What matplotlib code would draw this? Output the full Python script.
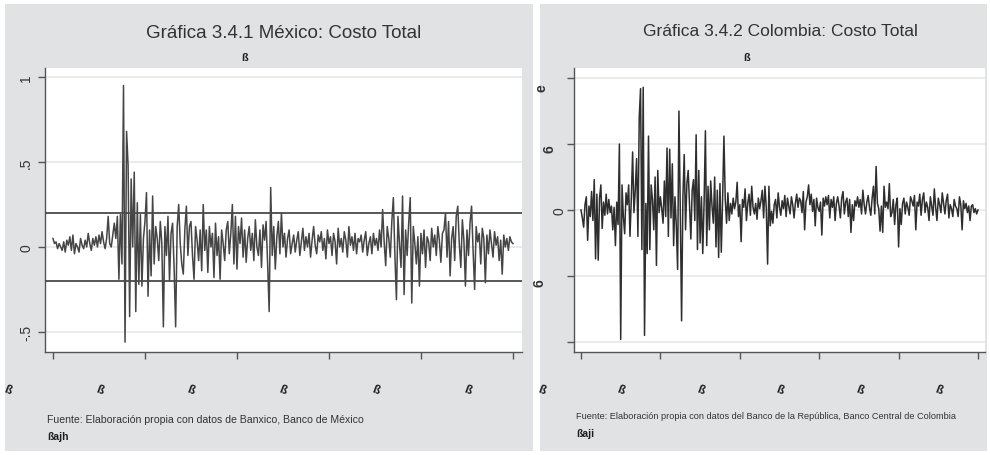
import matplotlib
matplotlib.use("Agg")
import matplotlib.pyplot as plt
from matplotlib.patches import Rectangle
import numpy as np

# Mexico: costo total (monthly changes)
mexico = [
    0.05, 0.02, 0.03, -0.01, 0.02, 0.00, -0.02, 0.03, -0.03, 0.04,
    0.01, 0.06, -0.02, 0.07, -0.04, 0.02, 0.00, -0.03, 0.05, 0.01,
    -0.01, 0.04, 0.00, 0.08, 0.02, -0.02, 0.05, 0.01, 0.06, 0.00,
    0.07, 0.02, 0.09, 0.03, -0.01, 0.05, 0.18, 0.02, 0.00, 0.07,
    0.14, 0.05, 0.18, -0.19, 0.19, -0.10, 0.95, -0.56, 0.68, 0.48,
    -0.41, 0.40, 0.00, 0.44, -0.38, 0.26, -0.22, 0.19, -0.23, 0.05,
    0.15, 0.32, -0.29, 0.10, -0.17, 0.30, -0.10, 0.12, 0.05, -0.08,
    0.15, 0.02, -0.47, 0.12, -0.05, 0.18, -0.20, 0.08, 0.14, -0.12,
    -0.47, 0.12, 0.25, 0.02, -0.10, -0.16, 0.10, 0.24, -0.05, 0.12,
    0.15, -0.05, -0.19, 0.12, 0.04, -0.08, 0.10, -0.14, 0.25, -0.02,
    0.10, -0.15, 0.12, 0.00, 0.08, -0.18, 0.14, -0.05, 0.06, -0.19,
    0.10, 0.02, -0.08, 0.10, 0.15, -0.04, 0.08, 0.25, -0.10, 0.18,
    -0.13, 0.12, 0.02, 0.17, -0.06, 0.10, -0.09, 0.05, 0.12, -0.02,
    0.08, -0.08, 0.16, 0.00, -0.05, 0.10, -0.12, 0.13, 0.04, 0.15,
    -0.10, -0.38, 0.35, -0.05, 0.12, -0.13, 0.06, 0.15, -0.04, 0.20,
    0.00, 0.08, -0.06, 0.05, 0.10, -0.04, 0.02, 0.07, -0.03, 0.04,
    0.09, -0.05, 0.03, 0.11, -0.02, 0.06, 0.00, 0.08, -0.06, 0.04,
    0.12, 0.01, -0.04, 0.07, 0.03, 0.09, -0.02, 0.05, -0.07, 0.10,
    0.02, 0.06, -0.05, 0.08, 0.03, -0.10, 0.11, 0.00, 0.05, -0.03,
    0.09, 0.04, -0.06, 0.12, 0.01, 0.06, -0.02, 0.08, -0.04, 0.05,
    0.03, 0.07, -0.03, 0.04, 0.09, -0.05, 0.02, 0.06, -0.04, 0.08,
    0.01, 0.05, -0.02, 0.10, 0.00, 0.22, 0.03, -0.11, 0.12, 0.05,
    -0.06, 0.15, 0.29, -0.05, -0.31, 0.18, 0.02, -0.12, 0.30, -0.28,
    0.10, -0.05, 0.14, 0.29, -0.33, 0.12, 0.02, -0.10, 0.06, -0.23,
    0.08, -0.04, 0.10, -0.12, 0.06, 0.03, -0.08, 0.11, 0.00, 0.07,
    -0.05, 0.12, 0.04, -0.09, 0.08, 0.10, 0.20, -0.06, 0.15, -0.17,
    0.05, 0.12, -0.08, 0.18, 0.24, 0.02, -0.12, 0.16, 0.04, -0.23,
    0.10, -0.05, 0.14, 0.24, -0.02, -0.25, 0.12, 0.03, 0.08, -0.10,
    0.11, 0.05, -0.21, 0.07, -0.04, 0.10, 0.02, -0.06, 0.09, 0.01,
    0.06, -0.08, 0.04, -0.16, 0.07, 0.00, 0.05, -0.02, 0.06, 0.03, 0.02,
]

# Colombia: costo total
colombia = [
    0.0, -0.6, -1.3, 0.4, 1.0, -2.3, 0.3, -0.5, 1.4, -0.8,
    2.3, -3.7, 1.2, -3.8, 0.9, 1.9, -1.4, 0.6, -0.4, 1.2,
    -0.3, 0.8, -0.2, 0.3, -1.5, 0.2, -2.7, 0.6, -1.1, 5.0,
    -9.8, 1.9, -0.5, -1.8, 1.3, 0.4, 1.9, -2.0, 0.8, 4.4,
    -0.2, 1.5, 3.9, -2.0, 7.0, 9.2, -3.0, 9.3, -9.5, 0.5,
    -3.3, 5.6, -3.0, 1.9, 0.8, -1.5, 2.5, -4.2, 3.0, -0.2,
    1.0, 0.1, -1.0, 2.2, -0.5, 4.7, -2.0, 4.6, -0.6, 3.5,
    -2.7, 1.0, -1.2, -4.5, 7.5, 0.2, -8.4, 1.0, 4.2, -1.5,
    2.0, 3.0, 0.3, -2.2, 1.5, 2.3, -0.8, 5.7, -3.0, 3.0,
    -2.5, 1.0, -3.3, 0.5, 6.0, -2.7, 1.8, -1.5, 2.2, 0.3,
    -1.0, 2.5, -2.8, 1.5, -3.6, 2.0, -3.2, 0.8, 5.6, 0.8,
    -1.0, 1.3, -0.8, 0.5, -0.3, 0.9, 0.1, 0.6, 2.1, -0.5,
    0.4, -2.4, 0.8, 0.2, 1.6, -0.8, 0.5, 1.2, -0.4, 1.8,
    0.2, -0.3, 0.5, -0.7, 0.9, 0.1, 0.7, 1.5, -0.6, 1.8,
    0.2, -4.1, 1.8, -1.2, -0.1, -1.0, 0.4, 0.8, -0.6, 1.3,
    0.2, -0.4, 0.7, 0.1, 1.1, -0.5, 0.9, 0.3, -0.3, 1.0,
    0.4, -0.6, 0.5, 1.2, 0.2, 0.9, 0.7, -0.2, 1.4, -1.5,
    0.6, 1.0, 1.9, 0.4, 1.2, -0.1, 0.8, -1.2, 0.9, 0.2,
    -0.1, 0.6, -1.9, 0.9, 0.3, 1.0, 0.4, 1.1, -0.6, 0.8,
    0.2, 1.0, -0.8, 0.5, 1.0, 0.3, -0.6, 0.9, 1.4, -0.3,
    0.6, 0.9, -0.5, 0.8, -1.7, 0.4, -0.8, 0.7, 0.3, 1.0,
    0.2, 0.8, -0.3, 1.5, 0.4, -0.3, 0.6, 1.1, 0.2, -0.4,
    0.9, 1.8, -0.3, 3.3, 0.5, 0.1, -1.6, 0.3, -1.7, 1.8,
    0.2, 0.6, 0.1, 2.0, -0.5, -0.2, 0.8, -1.1, 0.4, 0.9,
    -2.8, 0.1, -1.1, 0.5, 0.9, -0.3, 0.6, 0.2, -0.4, 1.0,
    0.7, 0.3, 1.1, -1.5, 0.6, 0.3, 1.2, -0.4, 0.8, 1.3,
    -0.2, 0.6, 0.2, -0.8, 1.0, 0.3, -0.4, 1.6, 0.2, -0.8,
    0.9, 0.4, -0.2, 1.3, 0.5, -0.3, 0.7, 1.2, -0.6, 0.4,
    0.1, -0.5, 0.8, 0.3, 0.1, -0.5, 1.0, 0.4, -1.5, 0.7,
    0.1, 0.5, -0.2, 0.3, -0.8, 0.3, 0.4, -0.2, 0.1, -0.3, 0.0,
]

mex_yticks = [-0.5, 0, 0.5, 1]
mex_ylabels = ["-.5", "0", ".5", "1"]
mex_band = [-0.2, 0.2]
col_yticks = [-10, -5, 0, 5, 10]

titles = ["Gráfica 3.4.1 México: Costo Total", "Gráfica 3.4.2 Colombia: Costo Total"]
fuentes = ["Fuente: Elaboración propia con datos de Banxico, Banco de México",
           "Fuente: Elaboración propia con datos del Banco de la República, Banco Central de Colombia"]

W, H = 990, 456
plt.rcParams['font.family'] = ['Liberation Sans', 'DejaVu Sans']
fig = plt.figure(figsize=(W / 100, H / 100), dpi=100)
fig.patch.set_facecolor("white")

def fx(x):
    return x / W

def fy(y):
    return 1 - y / H

bg = "#e1e2e4"
fig.patches.append(Rectangle((fx(5), fy(452)), fx(528), 447 / H, transform=fig.transFigure,
                             facecolor=bg, edgecolor="none", zorder=-1))
fig.patches.append(Rectangle((fx(540), fy(452)), fx(447), 447 / H, transform=fig.transFigure,
                             facecolor=bg, edgecolor="none", zorder=-1))

ax1 = fig.add_axes([fx(45), fy(353), fx(477), 284 / H])
ax2 = fig.add_axes([fx(574), fy(353), fx(411), 284 / H])

axcol = "#555555"
for ax in (ax1, ax2):
    ax.set_facecolor("white")
    for s in ("top", "right"):
        ax.spines[s].set_visible(False)
    for s in ("left", "bottom"):
        ax.spines[s].set_color(axcol)
        ax.spines[s].set_linewidth(1.0)
    ax.tick_params(direction="out", length=5, width=1, color=axcol, labelcolor="#333333")
    ax.set_axisbelow(True)
    ax.grid(axis="y", color="#e6e7e9", linewidth=1.2)

# Mexico panel
xm = np.arange(len(mexico))
ax1.plot(xm, mexico, color="#454545", linewidth=1.1, zorder=3)
for b in mex_band:
    ax1.axhline(b, color="#4a4a4a", linewidth=1.3, zorder=4)
ax1.set_xlim(-5.2, len(mexico) - 1 + 5.9)
ax1.set_ylim(-0.618, 1.053)
ax1.set_yticks(mex_yticks)
ax1.set_yticklabels(mex_ylabels, rotation=90, va="center", fontsize=10)
ax1.set_xticks(np.linspace(0, len(mexico) - 1, 6))
ax1.set_xticklabels([])

# Colombia panel
xc = np.arange(len(colombia))
ax2.plot(xc, colombia, color="#2e2e2e", linewidth=1.1, zorder=3)
ax2.set_xlim(-5.3, len(colombia) - 1 + 5.3)
ax2.set_ylim(-10.76, 10.76)
ax2.set_yticks(col_yticks)
ax2.set_yticklabels([])
ax2.set_xticks(np.linspace(0, len(colombia) - 1, 6))
ax2.set_xticklabels([])

# garbled y labels on the Colombia panel (as printed)
for lab, x, y in [("e", 542, 88), ("6", 550, 149), ("0", 560, 211), ("6", 540, 283)]:
    fig.text(fx(x), fy(y), lab, rotation=90, ha="center", va="center", fontsize=10,
             color="#333333", fontweight="bold" if lab != "0" else "normal")

# garbled x tick labels
for x in [8, 100, 191, 283, 376, 468]:
    fig.text(fx(x), fy(390), "ß", ha="center", va="center", fontsize=8.5,
             fontweight="bold", color="#1e1e1e", rotation=-20)
for x in [542, 621, 701, 780, 860, 939]:
    fig.text(fx(x), fy(390), "ß", ha="center", va="center", fontsize=8.5,
             fontweight="bold", color="#1e1e1e", rotation=-20)

# titles
fig.text(fx(284), fy(33), titles[0], ha="center", va="center", fontsize=13.5, color="#333333")
fig.text(fx(780), fy(32), titles[1], ha="center", va="center", fontsize=12.5, color="#333333")
fig.text(fx(245), fy(58), "ß", ha="center", va="center", fontsize=8, fontweight="bold", color="#1e1e1e")
fig.text(fx(747), fy(58), "ß", ha="center", va="center", fontsize=8, fontweight="bold", color="#1e1e1e")

# sources
fig.text(fx(47), fy(420), fuentes[0], ha="left", va="center", fontsize=7.6, color="#333333")
fig.text(fx(576), fy(417), fuentes[1], ha="left", va="center", fontsize=6.6, color="#333333")
fig.text(fx(47), fy(437), "ßajh", ha="left", va="center", fontsize=7.5, fontweight="bold", color="#1e1e1e")
fig.text(fx(576), fy(434), "ßaji", ha="left", va="center", fontsize=7.5, fontweight="bold", color="#1e1e1e")

fig.savefig("out.png", dpi=100)
